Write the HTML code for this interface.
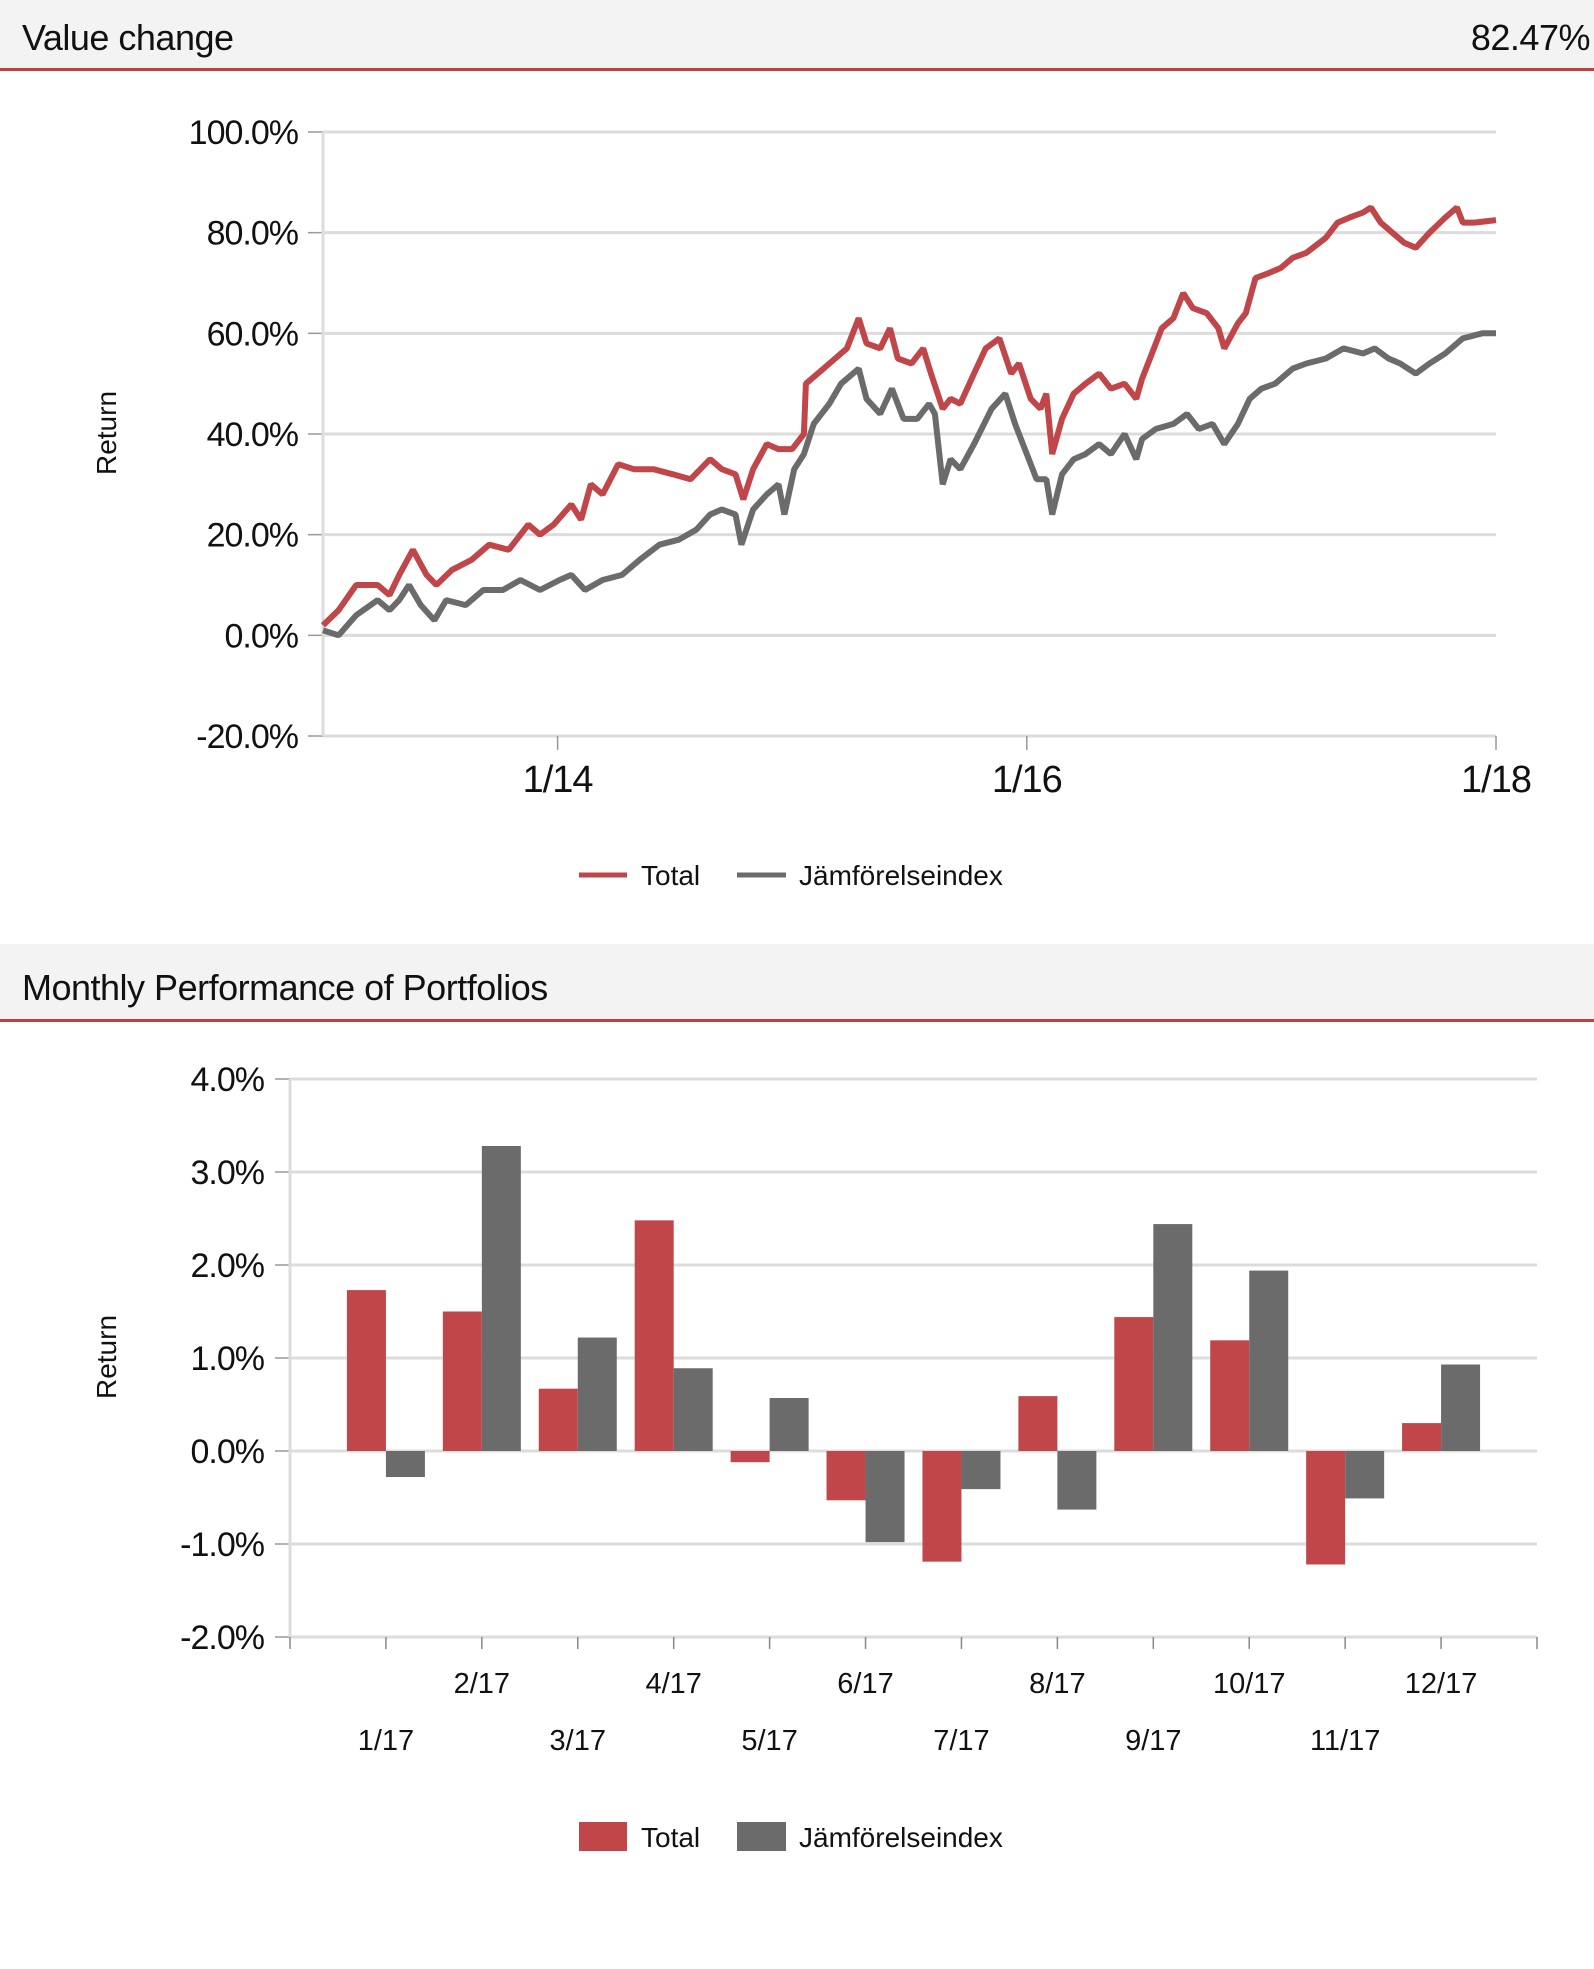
<!DOCTYPE html>
<html><head><meta charset="utf-8">
<style>
html,body{margin:0;padding:0;background:#fff;}
svg{display:block;font-family:"Liberation Sans",sans-serif;}
</style></head>
<body>
<svg id="root" width="1594" height="1969" viewBox="0 0 1594 1969">
  <rect x="0" y="0" width="1594" height="69" fill="#f3f3f3"/>
  <rect x="0" y="68" width="1594" height="3" fill="#c0403f"/>
  <text x="22" y="50" font-size="36" fill="#111" letter-spacing="-0.5">Value change</text>
  <text x="1590" y="50" font-size="36" fill="#111" text-anchor="end" letter-spacing="-0.5">82.47%</text>
  <g id="lineChart"></g>

  <rect x="0" y="944" width="1594" height="76" fill="#f3f3f3"/>
  <rect x="0" y="1019" width="1594" height="3" fill="#c0403f"/>
  <text x="22" y="1000" font-size="36" fill="#111" letter-spacing="-0.5">Monthly Performance of Portfolios</text>
  <g id="barChart"></g>
</svg>
<script>
// ---- line chart data (months since Jan 2013, return %) ----
const totalMonths = [0,0.8,1.7,2.8,3.4,3.9,4.6,5.3,5.8,6.6,7.6,8.5,9.5,10.5,11.1,11.8,12.7,13.2,13.7,14.3,15.1,15.9,16.9,17.9,18.8,19.8,20.4,21.1,21.5,22.0,22.7,23.3,24.0,24.6,24.7,25.6,26.2,26.8,27.4,27.8,28.5,29.0,29.4,30.1,30.7,31.1,31.7,32.1,32.6,33.3,33.9,34.6,35.2,35.6,36.2,36.7,37.0,37.3,37.8,38.4,39.0,39.7,40.3,41.0,41.6,41.9,42.3,42.9,43.5,44.0,44.5,45.2,45.8,46.1,46.8,47.2,47.7,48.4,49.0,49.6,50.3,51.3,51.9,52.5,53.2,53.6,54.1,54.7,55.3,55.9,56.6,57.4,58.0,58.3,58.9,60];
const totalValues = [2,5,10,10,8,12,17,12,10,13,15,18,17,22,20,22,26,23,30,28,34,33,33,32,31,35,33,32,27,33,38,37,37,40,50,53,55,57,63,58,57,61,55,54,57,52,45,47,46,52,57,59,52,54,47,45,48,36,43,48,50,52,49,50,47,51,55,61,63,68,65,64,61,57,62,64,71,72,73,75,76,79,82,83,84,85,82,80,78,77,80,83,85,82,82,82.5];
const indexMonths = [0,0.8,1.7,2.8,3.4,3.9,4.4,5.0,5.7,6.3,7.3,8.2,9.2,10.1,11.1,12.1,12.7,13.4,14.3,15.3,16.2,17.2,18.2,19.1,19.8,20.4,21.1,21.4,22.0,22.7,23.3,23.6,24.1,24.6,25.1,25.9,26.5,27.4,27.8,28.5,29.1,29.7,30.4,31.0,31.3,31.7,32.1,32.6,33.3,34.2,34.9,35.4,36.0,36.5,37.0,37.3,37.8,38.4,39.0,39.7,40.3,41.0,41.6,41.9,42.6,43.5,44.2,44.8,45.5,46.1,46.8,47.4,48.0,48.7,49.6,50.3,51.3,52.2,53.2,53.8,54.5,55.1,55.9,56.6,57.4,58.3,59.3,60];
const indexValues = [1,0,4,7,5,7,10,6,3,7,6,9,9,11,9,11,12,9,11,12,15,18,19,21,24,25,24,18,25,28,30,24,33,36,42,46,50,53,47,44,49,43,43,46,44,30,35,33,38,45,48,42,36,31,31,24,32,35,36,38,36,40,35,39,41,42,44,41,42,38,42,47,49,50,53,54,55,57,56,57,55,54,52,54,56,59,60,60];
const lineYTicks = [-20,0,20,40,60,80,100];
const lineYTickLabels = ["-20.0%","0.0%","20.0%","40.0%","60.0%","80.0%","100.0%"];
const lineXTicks = [12,36,60];
const lineXTickLabels = ["1/14","1/16","1/18"];

// ---- bar chart data ----
const months = ["1/17","2/17","3/17","4/17","5/17","6/17","7/17","8/17","9/17","10/17","11/17","12/17"];
const totalMonthly = [1.73,1.50,0.67,2.48,-0.12,-0.53,-1.19,0.59,1.44,1.19,-1.22,0.30];
const indexMonthly = [-0.28,3.28,1.22,0.89,0.57,-0.98,-0.41,-0.63,2.44,1.94,-0.51,0.93];
const barYTicks = [-2,-1,0,1,2,3,4];
const barYTickLabels = ["-2.0%","-1.0%","0.0%","1.0%","2.0%","3.0%","4.0%"];

const NS="http://www.w3.org/2000/svg";
const RED="#c0464a", GRAY="#6b6b6b", GRID="#dcdcdc";
function mk(parent,tag,attrs,text){const e=document.createElementNS(NS,tag);for(const k in attrs)e.setAttribute(k,attrs[k]);if(text!==undefined)e.textContent=text;parent.appendChild(e);return e;}

// ===== Line chart =====
(function(){
  const g=document.getElementById('lineChart');
  const x0=323,x1=1496,yTop=132,yBot=736;
  const xs=m=>x0+(m-0)/(60-0)*(x1-x0);
  const ys=v=>yBot-(v+20)/120*(yBot-yTop);
  lineYTicks.forEach((t,i)=>{
    const gl=mk(g,'line',{x1:x0,x2:x1,y1:ys(t),y2:ys(t),stroke:GRID,'stroke-width':3});
    
    
    const tk=mk(g,'line',{x1:x0-15,x2:x0,y1:ys(t),y2:ys(t),stroke:'#999','stroke-width':1.5});
    
    
    const lb=mk(g,'text',{x:298,y:ys(t)+12,'font-size':34,'text-anchor':'end',fill:'#111','letter-spacing':-1},lineYTickLabels[i]);
    
    
  });
  const ax=mk(g,'line',{x1:x0,x2:x0,y1:yTop,y2:yBot,stroke:GRID,'stroke-width':3});
  
  
  lineXTicks.forEach((t,i)=>{
    const tk=mk(g,'line',{x1:xs(t),x2:xs(t),y1:yBot,y2:yBot+14,stroke:'#999','stroke-width':1.5});
    
    
    const lb=mk(g,'text',{x:xs(t),y:792,'font-size':38,'text-anchor':'middle',fill:'#111','letter-spacing':-1},lineXTickLabels[i]);
    
    
  });
  const yt=mk(g,'text',{x:0,y:0,'font-size':28,'text-anchor':'middle',fill:'#111',transform:'translate(116,433) rotate(-90)'},'Return');
  
  
  function path(ms,vs){return ms.map((m,i)=>(i?'L':'M')+xs(m).toFixed(1)+','+ys(vs[i]).toFixed(1)).join('');}
  const pI=mk(g,'path',{d:path(indexMonths,indexValues),fill:'none',stroke:GRAY,'stroke-width':6,'stroke-linejoin':'bevel'});
  
  
  const pT=mk(g,'path',{d:path(totalMonths,totalValues),fill:'none',stroke:RED,'stroke-width':6,'stroke-linejoin':'bevel'});
  
  
  const l1=mk(g,'line',{x1:579,x2:627,y1:875,y2:875,stroke:RED,'stroke-width':5});
  
  
  const t1=mk(g,'text',{x:641,y:885,'font-size':28,fill:'#111'},'Total');
  
  
  const l2=mk(g,'line',{x1:737,x2:786,y1:875,y2:875,stroke:GRAY,'stroke-width':5});
  
  
  const t2=mk(g,'text',{x:799,y:885,'font-size':28,fill:'#111'},'Jämförelseindex');
  
  
})();

// ===== Bar chart =====
(function(){
  const g=document.getElementById('barChart');
  const x0=290,x1=1537,yTop=1079,yBot=1637;
  const slot=(x1-x0)/(months.length+1);
  const xc=i=>x0+slot*(i+1);
  const ys=v=>yBot-(v+2)/6*(yBot-yTop);
  const bw=39;
  barYTicks.forEach((t,i)=>{
    const gl=mk(g,'line',{x1:x0,x2:x1,y1:ys(t),y2:ys(t),stroke:GRID,'stroke-width':3});
    
    
    const tk=mk(g,'line',{x1:x0-15,x2:x0,y1:ys(t),y2:ys(t),stroke:'#999','stroke-width':1.5});
    
    
    const lb=mk(g,'text',{x:264,y:ys(t)+12,'font-size':34,'text-anchor':'end',fill:'#111','letter-spacing':-1},barYTickLabels[i]);
    
    
  });
  const ax=mk(g,'line',{x1:x0,x2:x0,y1:yTop,y2:yBot,stroke:GRID,'stroke-width':3});
  
  
  const tk0=mk(g,'line',{x1:x0,x2:x0,y1:yBot,y2:yBot+12,stroke:'#888','stroke-width':1.5});
  
  
  const tkE=mk(g,'line',{x1:x1,x2:x1,y1:yBot,y2:yBot+12,stroke:'#888','stroke-width':1.5});
  
  
  months.forEach((m,i)=>{
    const cx=xc(i);
    const tk=mk(g,'line',{x1:cx,x2:cx,y1:yBot,y2:yBot+12,stroke:'#888','stroke-width':1.5});
    
    
    const ly=(i%2===1)?1693:1750;
    const lb=mk(g,'text',{x:cx,y:ly,'font-size':29,'text-anchor':'middle',fill:'#111'},m);
    
    
    const vt=totalMonthly[i], vi=indexMonthly[i];
    const r=mk(g,'rect',{x:cx-bw,y:Math.min(ys(vt),ys(0)),width:bw,height:Math.abs(ys(vt)-ys(0)),fill:RED});
    
    
    const r2=mk(g,'rect',{x:cx,y:Math.min(ys(vi),ys(0)),width:bw,height:Math.abs(ys(vi)-ys(0)),fill:GRAY});
    
    
  });
  const yt=mk(g,'text',{x:0,y:0,'font-size':28,'text-anchor':'middle',fill:'#111',transform:'translate(116,1357) rotate(-90)'},'Return');
  
  
  const s1=mk(g,'rect',{x:579,y:1822,width:48,height:29,fill:RED});
  
  
  const t1=mk(g,'text',{x:641,y:1847,'font-size':28,fill:'#111'},'Total');
  
  
  const s2=mk(g,'rect',{x:737,y:1822,width:49,height:29,fill:GRAY});
  
  
  const t2=mk(g,'text',{x:799,y:1847,'font-size':28,fill:'#111'},'Jämförelseindex');
  
  
})();
</script>
</body></html>
